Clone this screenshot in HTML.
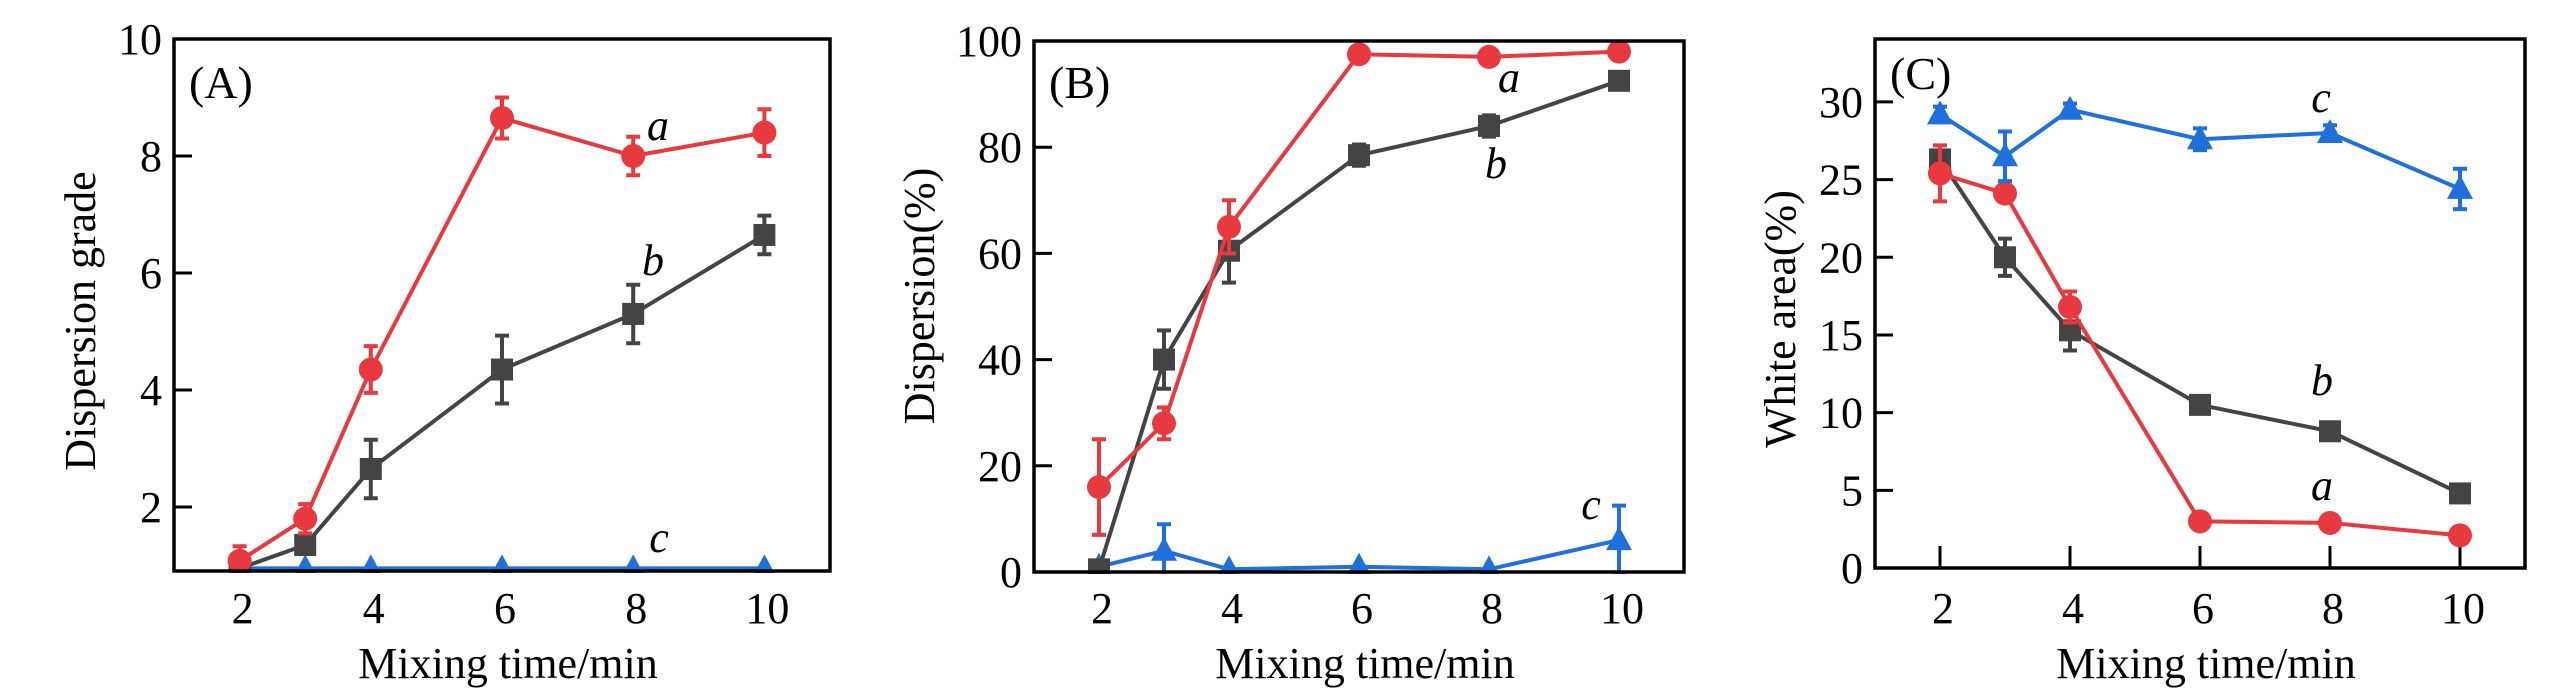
<!DOCTYPE html>
<html><head><meta charset="utf-8"><style>
html,body{margin:0;padding:0;background:#fff;}
svg{display:block;font-family:"Liberation Serif",serif;}
</style></head><body>
<svg id="fig" width="2554" height="693" viewBox="0 0 2554 693" xmlns="http://www.w3.org/2000/svg"></svg>
<script>
const times = [2, 3, 4, 6, 8, 10];
const xTicks = [2, 4, 6, 8, 10];

const aGrade = [1.08, 1.8, 4.35, 8.65, 8.0, 8.4];
const aGradeErr = [0.25, 0.25, 0.4, 0.35, 0.33, 0.4];
const bGrade = [0.95, 1.35, 2.65, 4.35, 5.3, 6.65];
const bGradeErr = [0, 0.12, 0.5, 0.58, 0.5, 0.33];
const cGrade = [0.95, 0.95, 0.95, 0.95, 0.95, 0.95];
const cGradeErr = [0, 0, 0, 0, 0, 0];
const gradeTicks = [2, 4, 6, 8, 10];

const aDisp = [16, 28, 65, 97.5, 97, 98];
const aDispErr = [9, 3, 5, 0.5, 0.5, 0.5];
const bDisp = [0.5, 40, 60.5, 78.5, 84, 92.5];
const bDispErr = [0, 5.5, 6, 2, 2, 1.5];
const cDisp = [1, 4, 0.5, 1, 0.5, 6];
const cDispErr = [0, 5, 0, 0, 0, 6.5];
const dispTicks = [0, 20, 40, 60, 80, 100];

const aWhite = [25.4, 24.1, 16.8, 3.0, 2.9, 2.1];
const aWhiteErr = [1.8, 0.3, 1.0, 0.5, 0.3, 0.4];
const bWhite = [26.3, 20.0, 15.3, 10.5, 8.8, 4.8];
const bWhiteErr = [0.5, 1.2, 1.3, 0.3, 0.3, 0.5];
const cWhite = [29.2, 26.5, 29.5, 27.6, 28.0, 24.4];
const cWhiteErr = [0.5, 1.6, 0.4, 0.7, 0.5, 1.3];
const whiteTicks = [0, 5, 10, 15, 20, 25, 30];

const NS = "http://www.w3.org/2000/svg";
const svg = document.getElementById('fig');
const RED = "#e8393e", GRAY = "#444444", BLUE = "#1f6fdc";

function mk(tag, attrs, parent) {
  const e = document.createElementNS(NS, tag);
  for (const k in attrs) e.setAttribute(k, attrs[k]);
  (parent || svg).appendChild(e);
  return e;
}

function panel(cfg) {
  const g = mk('g', {});
  
  
  const X = t => cfg.L + (t - 1) / 10 * (cfg.R - cfg.L);
  const Y = v => cfg.B - (v - cfg.ymin) / (cfg.ymax - cfg.ymin) * (cfg.B - cfg.T);
  cfg.yTicks.forEach(v => {
    const y = Y(v);
    const tk = mk('line', {x1: cfg.L, x2: cfg.L + 18, y1: y, y2: y, stroke: '#000', 'stroke-width': 3}, g);
    
    
    const tl = mk('text', {x: cfg.L - 12, y: y + 15, 'text-anchor': 'end', 'font-size': 44}, g);
    tl.textContent = v;
    
    
  });
  xTicks.forEach(t => {
    const x = X(t);
    if (cfg.xTickMarks) {
      const tk = mk('line', {x1: x, x2: x, y1: cfg.B, y2: cfg.B - 22, stroke: '#000', 'stroke-width': 3}, g);
      
      
    }
    const tl = mk('text', {x: x + 3, y: 623, 'text-anchor': 'middle', 'font-size': 44}, g);
    tl.textContent = t;
    
    
  });
  cfg.series.forEach(s => {
    const sg = mk('g', {}, g);
    
    
    const pts = times.map((t, i) => X(t).toFixed(1) + ',' + Y(s.vals[i]).toFixed(1)).join(' ');
    const pl = mk('polyline', {points: pts, fill: 'none', stroke: s.color, 'stroke-width': 4}, sg);
    
    
    times.forEach((t, i) => {
      const x = X(t), y = Y(s.vals[i]), e = s.err[i];
      if (e > 0) {
        const y1 = Y(s.vals[i] + e), y2 = Y(s.vals[i] - e);
        const eb = mk('path', {d: `M${x},${y1}V${y2}M${x-7},${y1}H${x+7}M${x-7},${y2}H${x+7}`, stroke: s.color, 'stroke-width': 4, fill: 'none'}, sg);
        
        
      }
      let m;
      if (s.shape === 'circle') m = mk('circle', {cx: x, cy: y, r: 12, fill: s.color}, sg);
      else if (s.shape === 'square') m = mk('rect', {x: x - 11, y: y - 11, width: 22, height: 22, fill: s.color}, sg);
      else m = mk('polygon', {points: `${x},${y-14} ${x-13},${y+10} ${x+13},${y+10}`, fill: s.color}, sg);
      
      
    });
  });
  const box = mk('rect', {x: cfg.L, y: cfg.T, width: cfg.R - cfg.L, height: cfg.B - cfg.T, fill: 'none', stroke: '#000', 'stroke-width': 3.5}, g);
  
  
  const cover = mk('rect', {x: cfg.L - 2, y: cfg.B + 2, width: cfg.R - cfg.L + 4, height: 16, fill: '#fff'}, g);
  
  
  const pt = mk('text', {x: cfg.L + 15, y: cfg.panelY, 'font-size': 46}, g);
  pt.textContent = cfg.panelLabel;
  
  
  cfg.labels.forEach(l => {
    const t = mk('text', {x: l[1], y: l[2], 'font-size': 44, 'font-style': 'italic', 'text-anchor': 'middle'}, g);
    t.textContent = l[0];
    
    
  });
  const xt = mk('text', {x: (cfg.L + cfg.R) / 2 + 6, y: 678, 'text-anchor': 'middle', 'font-size': 44}, g);
  xt.textContent = 'Mixing time/min';
  
  
  const yt = mk('text', {x: 0, y: 0, 'text-anchor': 'middle', 'font-size': 44, transform: `translate(${cfg.ytx},${cfg.yty}) rotate(-90)`}, g);
  yt.textContent = cfg.ytitle;
  
  
}

panel({name: 'panel-a', L: 174, R: 830, T: 39, B: 571, ymin: 0.906, ymax: 10, yTicks: gradeTicks,
  xTickMarks: false, panelLabel: '(A)', panelY: 98, ytitle: 'Dispersion grade', ytx: 95, yty: 321,
  labels: [['a', 658, 140], ['b', 653, 275], ['c', 659, 552]],
  series: [
    {key: 'c', vals: cGrade, err: cGradeErr, color: BLUE, shape: 'tri'},
    {key: 'b', vals: bGrade, err: bGradeErr, color: GRAY, shape: 'square'},
    {key: 'a', vals: aGrade, err: aGradeErr, color: RED, shape: 'circle'}]});

panel({name: 'panel-b', L: 1034, R: 1684, T: 41, B: 572, ymin: 0, ymax: 100, yTicks: dispTicks,
  xTickMarks: false, panelLabel: '(B)', panelY: 98, ytitle: 'Dispersion(%)', ytx: 934, yty: 296,
  labels: [['a', 1509, 92], ['b', 1496, 178], ['c', 1591, 519]],
  series: [
    {key: 'c', vals: cDisp, err: cDispErr, color: BLUE, shape: 'tri'},
    {key: 'b', vals: bDisp, err: bDispErr, color: GRAY, shape: 'square'},
    {key: 'a', vals: aDisp, err: aDispErr, color: RED, shape: 'circle'}]});

panel({name: 'panel-c', L: 1875, R: 2525, T: 39, B: 568, ymin: 0, ymax: 34.05, yTicks: whiteTicks,
  xTickMarks: true, panelLabel: '(C)', panelY: 89, ytitle: 'White area(%)', ytx: 1795, yty: 319,
  labels: [['c', 2321, 112], ['b', 2322, 395], ['a', 2322, 500]],
  series: [
    {key: 'b', vals: bWhite, err: bWhiteErr, color: GRAY, shape: 'square'},
    {key: 'a', vals: aWhite, err: aWhiteErr, color: RED, shape: 'circle'},
    {key: 'c', vals: cWhite, err: cWhiteErr, color: BLUE, shape: 'tri'}]});
</script>
</body></html>
